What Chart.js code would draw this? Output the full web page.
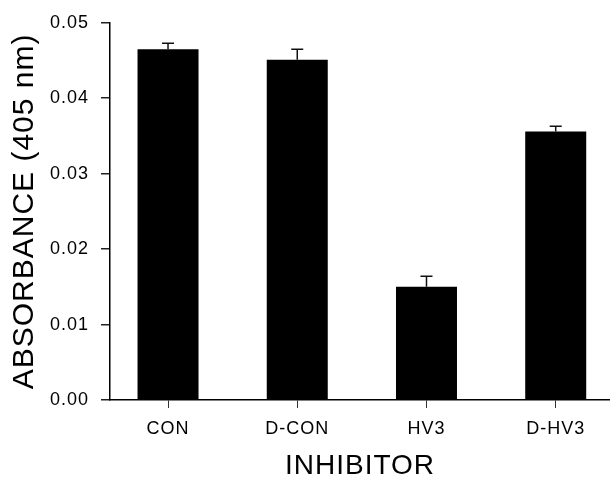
<!DOCTYPE html>
<html lang="en">
<head>
    <meta charset="UTF-8">
    <title>Absorbance by inhibitor</title>
    <script src="https://cdn.jsdelivr.net/npm/chart.js"></script>
    <style>
        body { margin: 0; background: #fff; }
        .chart-container {
            width: 610px;
            height: 480px;
            position: relative;
        }
    </style>
</head>
<body>
    <div class="chart-container">
        <canvas id="absChart"></canvas>
    </div>

    <script>
        // values
        const categories = ['CON', 'D-CON', 'HV3', 'D-HV3'];
        const absorbance = [0.0465, 0.0451, 0.0150, 0.0356];
        const errors = [0.0008, 0.0014, 0.0014, 0.0007];
        const yTicks = [0, 0.01, 0.02, 0.03, 0.04, 0.05];

        const fontFamily = '"Liberation Sans", Arial, Helvetica, sans-serif';

        // the original lettering is spaced out a little
        const letterSpacing = {
            id: 'letterSpacing',
            beforeUpdate(chart) { chart.ctx.letterSpacing = '1px'; },
            beforeDraw(chart) { chart.ctx.letterSpacing = '1px'; }
        };

        // upper error bars with caps
        const errorBars = {
            id: 'errorBars',
            afterDatasetsDraw(chart) {
                const { ctx, scales: { x, y } } = chart;
                ctx.save();
                ctx.strokeStyle = '#111';
                ctx.lineWidth = 1.5;
                absorbance.forEach((v, i) => {
                    const px = x.getPixelForValue(i + 1);
                    const yv = y.getPixelForValue(v);
                    const yt = y.getPixelForValue(v + errors[i]);
                    ctx.beginPath();
                    ctx.moveTo(px, yv);
                    ctx.lineTo(px, yt);
                    ctx.moveTo(px - 6, yt);
                    ctx.lineTo(px + 6, yt);
                    ctx.stroke();
                });
                ctx.restore();
            }
        };

        const ctx = document.getElementById('absChart').getContext('2d');
        new Chart(ctx, {
            type: 'bar',
            data: {
                datasets: [{
                    data: absorbance.map((v, i) => ({ x: i + 1, y: v })),
                    backgroundColor: '#000',
                    borderWidth: 0,
                    barPercentage: 0.472,
                    categoryPercentage: 1
                }]
            },
            options: {
                responsive: true,
                maintainAspectRatio: false,
                animation: false,
                layout: { padding: { top: 15, right: 0, bottom: 0, left: 0 } },
                plugins: {
                    legend: { display: false },
                    tooltip: { enabled: false }
                },
                scales: {
                    x: {
                        type: 'linear',
                        min: 0.551,
                        max: 4.42,
                        offset: false,
                        afterBuildTicks: (s) => {
                            s.ticks = categories.map((c, i) => ({ value: i + 1 }));
                        },
                        afterFit: (s) => { s.height = 80; },
                        ticks: {
                            color: '#000',
                            padding: 10,
                            font: { family: fontFamily, size: 18 },
                            callback: (v) => categories[v - 1]
                        },
                        grid: {
                            offset: false,
                            drawOnChartArea: false,
                            drawTicks: true,
                            tickLength: 8,
                            color: '#333',
                            lineWidth: 1
                        },
                        border: { display: true, color: '#000', width: 1.5 },
                        title: {
                            display: true,
                            text: 'INHIBITOR',
                            color: '#000',
                            padding: { top: 0, bottom: 0 },
                            font: { family: fontFamily, size: 28, lineHeight: 1 }
                        }
                    },
                    y: {
                        min: 0,
                        max: 0.05,
                        afterBuildTicks: (s) => {
                            s.ticks = yTicks.map(v => ({ value: v }));
                        },
                        afterFit: (s) => { s.width = 110; },
                        ticks: {
                            color: '#000',
                            padding: 12,
                            font: { family: fontFamily, size: 18 },
                            callback: (v) => v.toFixed(2)
                        },
                        grid: {
                            drawOnChartArea: false,
                            drawTicks: true,
                            tickLength: 9,
                            color: '#222',
                            lineWidth: 1.5
                        },
                        border: { display: true, color: '#000', width: 1.5 },
                        title: {
                            display: true,
                            text: 'ABSORBANCE (405 nm)',
                            color: '#000',
                            padding: { top: 10, bottom: 0 },
                            font: { family: fontFamily, size: 30, lineHeight: 1 }
                        }
                    }
                }
            },
            plugins: [letterSpacing, errorBars]
        });
    </script>
</body>
</html>
